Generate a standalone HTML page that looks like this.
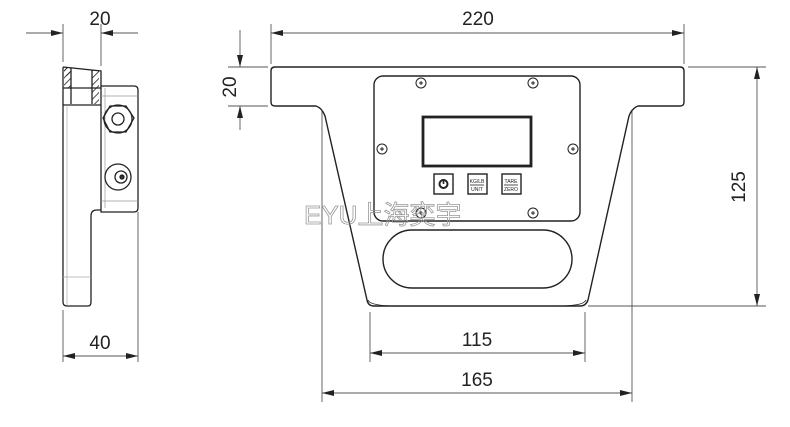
<!DOCTYPE html>
<html><head><meta charset="utf-8"><style>
html,body{margin:0;padding:0;background:#fff}
svg{display:block}
text{font-family:"Liberation Sans",sans-serif;fill:#222}
</style></head><body>
<svg width="790" height="427" viewBox="0 0 790 427" xmlns="http://www.w3.org/2000/svg">
<defs>
<marker id="a" viewBox="0 0 12 6" refX="12" refY="3" markerWidth="12" markerHeight="6" orient="auto-start-reverse" markerUnits="userSpaceOnUse"><path d="M0,0 L12,3 L0,6 z" fill="#222"/></marker>
<pattern id="h" width="5" height="5" patternUnits="userSpaceOnUse" patternTransform="rotate(45)"><line x1="0" y1="0" x2="0" y2="5" stroke="#222" stroke-width="1.6"/></pattern>
</defs>
<g stroke="#555" stroke-width="0.9" fill="none">
<line x1="63" y1="24" x2="63" y2="62"/><line x1="101" y1="24" x2="101" y2="66"/>
<line x1="26" y1="33" x2="63" y2="33" marker-end="url(#a)"/><line x1="138" y1="33" x2="101" y2="33" marker-end="url(#a)"/>
<line x1="63" y1="310" x2="63" y2="362"/><line x1="138" y1="212" x2="138" y2="362"/>
<line x1="63" y1="356" x2="138" y2="356" marker-start="url(#a)" marker-end="url(#a)"/>
<line x1="271" y1="24" x2="271" y2="64"/><line x1="684" y1="24" x2="684" y2="64"/>
<line x1="271" y1="33" x2="684" y2="33" marker-start="url(#a)" marker-end="url(#a)"/>
<line x1="228" y1="67" x2="268" y2="67"/><line x1="228" y1="106" x2="268" y2="106"/>
<line x1="240" y1="30" x2="240" y2="67" marker-end="url(#a)"/><line x1="240" y1="130" x2="240" y2="106" marker-end="url(#a)"/>
<line x1="688" y1="67" x2="766" y2="67"/><line x1="588" y1="306" x2="766" y2="306"/>
<line x1="757" y1="67" x2="757" y2="306" marker-start="url(#a)" marker-end="url(#a)"/>
<line x1="370" y1="312" x2="370" y2="362"/><line x1="585" y1="312" x2="585" y2="362"/>
<line x1="370" y1="353" x2="585" y2="353" marker-start="url(#a)" marker-end="url(#a)"/>
<line x1="322" y1="110" x2="322" y2="402"/><line x1="632" y1="110" x2="632" y2="402"/>
<line x1="322" y1="393" x2="632" y2="393" marker-start="url(#a)" marker-end="url(#a)"/>
</g>
<g font-size="19">
<text x="100" y="25" text-anchor="middle">20</text>
<text x="100" y="349" text-anchor="middle">40</text>
<text x="478" y="25" text-anchor="middle">220</text>
<text x="477" y="346" text-anchor="middle">115</text>
<text x="477" y="386" text-anchor="middle">165</text>
<text transform="translate(236,87) rotate(-90)" text-anchor="middle">20</text>
<text transform="translate(745,187) rotate(-90)" text-anchor="middle">125</text>
</g>

<g stroke="#222" stroke-width="1.3" fill="none">
<rect x="64" y="68" width="7" height="20" fill="url(#h)" stroke="none"/>
<rect x="92" y="70" width="7" height="34" fill="url(#h)" stroke="none"/>
<rect x="64" y="68" width="7" height="8" fill="url(#h)" stroke="none"/>
<path d="M63,67 L101,71 L101,86 M63,67 L63,302 Q63,306 67,306 L88,306 Q91,306 91,302 L91,216 Q91,210 97,210 L101,210"/>
<line x1="71" y1="68" x2="71" y2="104"/><line x1="92" y1="70" x2="92" y2="104"/>
<line x1="63" y1="88" x2="101" y2="88"/>
<line x1="63" y1="105" x2="101" y2="105"/>
<line x1="67" y1="105" x2="67" y2="305" stroke="#aaa" stroke-width="0.7"/>
<line x1="63" y1="277" x2="91" y2="277" stroke="#aaa" stroke-width="0.7"/>
<path d="M101,86 L134,86 Q138,86 138,90 L138,208 Q138,212 134,212 L101,212 Z"/>
<line x1="105" y1="88" x2="105" y2="208" stroke="#999" stroke-width="0.7"/>
<line x1="101" y1="96" x2="138" y2="96" stroke="#999" stroke-width="0.7"/>
<line x1="101" y1="201" x2="138" y2="201" stroke="#999" stroke-width="0.7"/>
<polygon points="110,106 126,106 134,118 126,132 110,132 103,118"/>
<circle cx="118" cy="119" r="14"/><circle cx="118" cy="119" r="6"/>
<circle cx="118" cy="177" r="13"/><circle cx="121" cy="177" r="6"/><circle cx="122" cy="177" r="2" fill="#333"/>
</g>

<g stroke="#222" stroke-width="1.4" fill="none">
<path d="M275,67 L680,67 Q684,67 684,71 L684,102 Q684,106 680,106 L638,106 Q632,108 629,116 L588,300 Q586,306 580,306 L374,306 Q368,306 367,300 L325,116 Q322,108 316,106 L275,106 Q271,106 271,102 L271,71 Q271,67 275,67 Z"/>
<path d="M368,300 Q370,306 397,306 M586,300 Q584,306 557,306" stroke-width="0.8"/>
<rect x="374" y="76" width="206" height="145" rx="9"/>
<rect x="423" y="117" width="108" height="49" stroke-width="2.8"/>
<rect x="434" y="174" width="19" height="20"/>
<rect x="468" y="174" width="19" height="20"/>
<rect x="502" y="174" width="19" height="20"/>
<rect x="383" y="230" width="189" height="58" rx="29"/>
</g>
<g stroke="#222" stroke-width="1" fill="none">
<circle cx="421" cy="83" r="5"/><circle cx="533" cy="83" r="5"/>
<circle cx="382" cy="149" r="5"/><circle cx="573" cy="149" r="5"/>
<circle cx="421" cy="213" r="5"/><circle cx="533" cy="213" r="5"/>
<path d="M419,83 h4 M421,81 v4 M531,83 h4 M533,81 v4 M380,149 h4 M382,147 v4 M571,149 h4 M573,147 v4 M419,213 h4 M421,211 v4 M531,213 h4 M533,211 v4"/>
<circle cx="443.5" cy="184" r="4" stroke-width="2"/>
<line x1="443.5" y1="179" x2="443.5" y2="184" stroke-width="1.6"/>
</g>
<text x="477" y="183" font-size="5" text-anchor="middle">KG/LB</text>
<line x1="470" y1="185" x2="484" y2="185" stroke="#222" stroke-width="0.8"/>
<text x="477" y="191" font-size="5" text-anchor="middle">UNIT</text>
<text x="511" y="183" font-size="5" text-anchor="middle">TARE</text>
<line x1="504" y1="185" x2="518" y2="185" stroke="#222" stroke-width="0.8"/>
<text x="511" y="191" font-size="5" text-anchor="middle">ZERO</text>
<text x="304" y="224" font-size="26" stroke="#999" stroke-width="0.8" style="fill:none;font-family:'Liberation Sans','Noto Sans CJK SC',sans-serif">EYU上海奕宇</text>
</svg>
</body></html>
